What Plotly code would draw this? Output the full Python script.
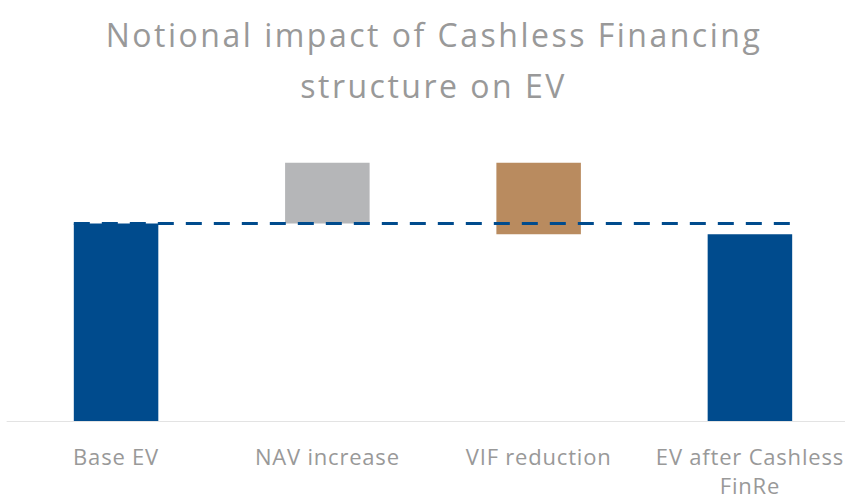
import plotly.graph_objects as go

categories = ["Base EV", "NAV increase", "VIF reduction", "EV after Cashless<br>FinRe"]
measures = ["absolute", "relative", "relative", "total"]
values = [100, 30.5, -36, 0]
title_lines = ["Notional impact of Cashless Financing", "structure on EV"]

BLUE = "#004B8D"
GRAY = "#B5B6B8"
BROWN = "#B98B5F"
TEXT = "#999999"
FONT = "Open Sans"

fig = go.Figure()
fig.add_trace(go.Waterfall(
    x=list(range(len(categories))),
    y=values,
    measure=measures,
    width=0.4,
    increasing=dict(marker=dict(color=GRAY)),
    decreasing=dict(marker=dict(color=BROWN)),
    totals=dict(marker=dict(color=BLUE)),
    connector=dict(visible=False),
    showlegend=False,
    hoverinfo="skip",
))

base_ev = values[0]
fig.add_trace(go.Scatter(
    x=[-0.2, len(categories) - 1 + 0.2],
    y=[base_ev, base_ev],
    mode="lines",
    line=dict(color=BLUE, width=3, dash="16px,12px"),
    showlegend=False,
    hoverinfo="skip",
))

fig.update_layout(
    width=845, height=500,
    margin=dict(l=10, r=0, t=144, b=76),
    paper_bgcolor="white", plot_bgcolor="white",
    font=dict(family=FONT, color=TEXT),
    xaxis=dict(
        range=[-0.502, 3.45],
        tickmode="array",
        tickvals=list(range(len(categories))),
        ticktext=categories,
        tickfont=dict(size=22, color=TEXT, family=FONT),
        ticklabelstandoff=20,
        showgrid=False, zeroline=False,
        showline=False, ticks="",
    ),
    yaxis=dict(range=[0, 140], visible=False, showgrid=False, zeroline=False),
    shapes=[dict(type="line", xref="paper", yref="y", x0=-0.004, x1=1, y0=0, y1=0,
                 line=dict(color="#E3E3E3", width=2))],
    annotations=[
        dict(text=title_lines[0], xref="paper", yref="paper", x=0.5, y=1,
             xanchor="center", yanchor="middle", xshift=6, yshift=144 - 34, showarrow=False,
             font=dict(size=32, color=TEXT, family=FONT)),
        dict(text=title_lines[1], xref="paper", yref="paper", x=0.5, y=1,
             xanchor="center", yanchor="middle", xshift=6, yshift=144 - 85, showarrow=False,
             font=dict(size=32, color=TEXT, family=FONT)),
    ],
)

post = """
document.body.style.margin='0';
document.querySelectorAll('.annotation-text').forEach(function(t){t.style.letterSpacing='2.5px';});
document.querySelectorAll('.xtick text').forEach(function(t){t.style.letterSpacing='0.8px';});
"""

fig.write_html("out.html", post_script=post, config={"displayModeBar": False})
